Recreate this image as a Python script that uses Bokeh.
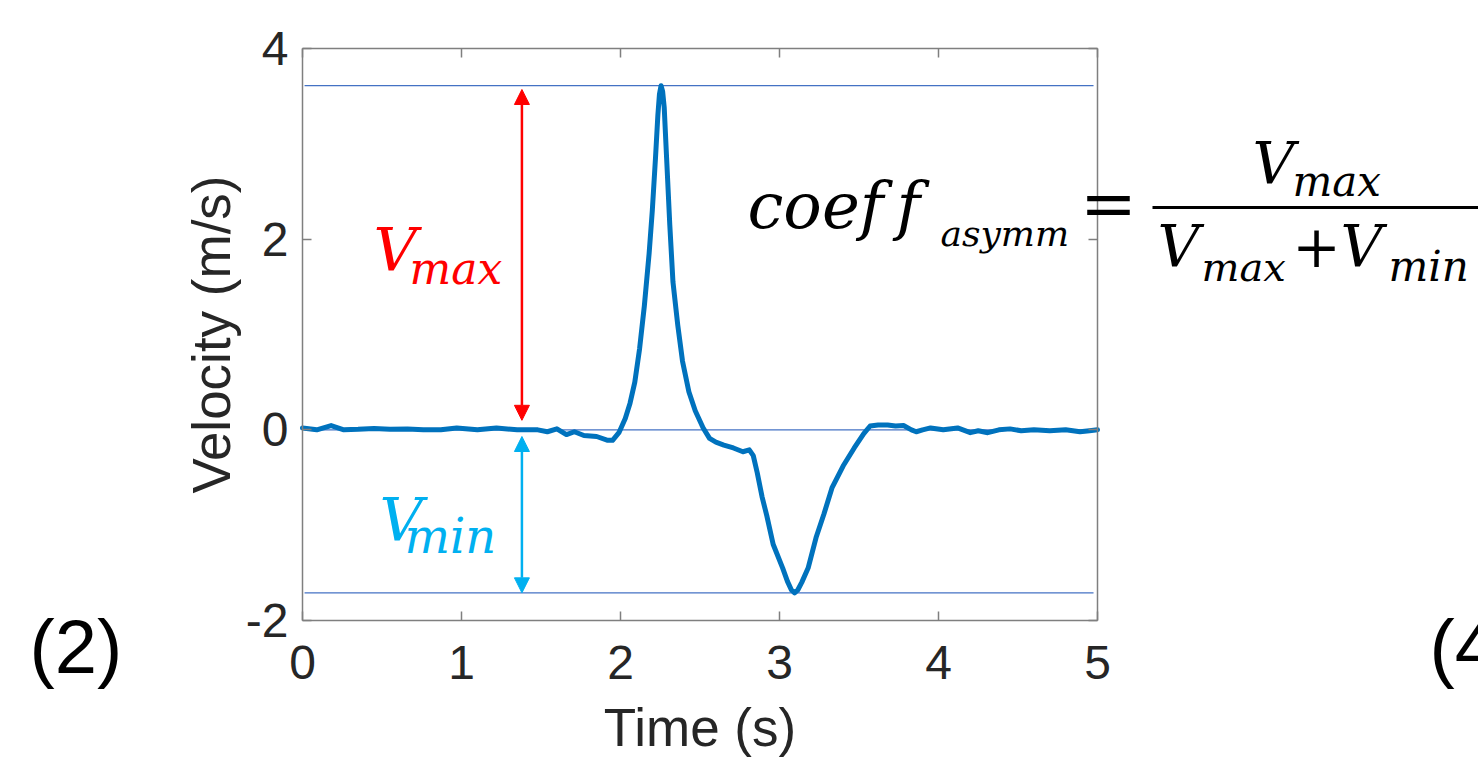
from bokeh.plotting import figure
from bokeh.models import (Range1d, Label, Arrow, NormalHead, LinearAxis,
                          CustomJSTickFormatter, FixedTicker)
from bokeh.embed import file_html
from bokeh.resources import INLINE

# ---------------- data ----------------
time_s = [0.00, 0.09, 0.18, 0.26, 0.35, 0.45, 0.55, 0.66, 0.76, 0.87, 0.97,
          1.10, 1.22, 1.35, 1.48, 1.54, 1.60, 1.66, 1.71, 1.77, 1.85, 1.92,
          1.95, 1.99, 2.03, 2.06, 2.09, 2.12, 2.15, 2.18, 2.20, 2.22, 2.235,
          2.245, 2.255, 2.265, 2.275, 2.29, 2.31, 2.33, 2.36, 2.39, 2.43, 2.47,
          2.52, 2.56, 2.60, 2.65, 2.71, 2.77, 2.81, 2.835, 2.86, 2.89, 2.92, 2.96,
          3.02, 3.05, 3.075, 3.095, 3.115, 3.14, 3.18, 3.23, 3.28, 3.33, 3.40,
          3.47, 3.53, 3.57, 3.62, 3.68, 3.73, 3.78, 3.83, 3.86, 3.90, 3.95,
          4.03, 4.12, 4.20, 4.25, 4.31, 4.38, 4.45, 4.52, 4.60, 4.70, 4.80,
          4.89, 4.95, 5.00]
velocity = [0.02, 0.00, 0.045, 0.00, 0.005, 0.015, 0.005, 0.01, 0.00, 0.00, 0.02,
            0.00, 0.02, 0.00, 0.00, -0.02, 0.01, -0.05, -0.02, -0.06, -0.07, -0.11,
            -0.11, -0.03, 0.12, 0.28, 0.50, 0.85, 1.30, 1.85, 2.30, 2.85, 3.30,
            3.52, 3.61, 3.55, 3.38, 2.85, 2.15, 1.55, 1.10, 0.72, 0.40, 0.20,
            0.02, -0.09, -0.13, -0.16, -0.19, -0.23, -0.21, -0.27, -0.45, -0.70, -0.90, -1.20,
            -1.45, -1.59, -1.68, -1.71, -1.68, -1.60, -1.45, -1.13, -0.88, -0.61, -0.38,
            -0.19, -0.04, 0.04, 0.05, 0.05, 0.04, 0.045, 0.00, -0.02, 0.00, 0.02,
            0.00, 0.02, -0.03, -0.01, -0.03, 0.00, 0.01, -0.01, 0.00, -0.01, 0.00,
            -0.02, -0.01, 0.00]
v_max = 3.61
v_min = -1.71
ref_levels = [v_max, 0.0, v_min]
x_ticks = [0, 1, 2, 3, 4, 5]
y_ticks = [-2, 0, 2, 4]

# ---------------- layout ----------------
W, H = 1478, 757
X0, X1, Y0, Y1 = 0, 5, -2, 4
PX_L, PX_R, PY_T, PY_B = 302, 1097, 48, 620   # where the axes box sits on the page
SX = (X1 - X0) / (PX_R - PX_L)
SY = (Y1 - Y0) / (PY_B - PY_T)


def dx(px):  # page pixel -> data x (for annotation placement)
    return X0 + (px - PX_L) * SX


def dy(py):  # page pixel -> data y
    return Y1 - (py - PY_T) * SY


p = figure(width=W, height=H,
           x_range=Range1d(dx(0), dx(W)), y_range=Range1d(dy(H), dy(0)),
           x_axis_type=None, y_axis_type=None,
           output_backend="svg", toolbar_location=None,
           min_border=0)
p.outline_line_color = None
p.grid.visible = False
p.background_fill_color = "white"
p.border_fill_color = "white"

AX = "#7f7f7f"
TXT = "#262626"


def style_axis(a):
    a.axis_line_color = AX
    a.axis_line_width = 1.5
    a.major_tick_line_color = AX
    a.major_tick_line_width = 1.5
    a.major_tick_in = 9
    a.major_tick_out = 0
    a.minor_tick_line_color = None
    a.major_label_text_font = "Liberation Sans"
    a.major_label_text_font_size = "48px"
    a.major_label_text_color = TXT
    a.axis_label_text_font = "Liberation Sans"
    a.axis_label_text_font_size = "53px"
    a.axis_label_text_font_style = "normal"
    a.axis_label_text_color = TXT


plain = CustomJSTickFormatter(code="return tick.toString()")
xb = LinearAxis(fixed_location=Y0, bounds=(X0, X1), ticker=FixedTicker(ticks=x_ticks),
                formatter=plain, axis_label="Time (s)")
yl = LinearAxis(fixed_location=X0, bounds=(Y0, Y1), ticker=FixedTicker(ticks=y_ticks),
                formatter=plain, axis_label="Velocity (m/s)")
xt = LinearAxis(fixed_location=Y1, bounds=(X0, X1), ticker=FixedTicker(ticks=x_ticks),
                formatter=CustomJSTickFormatter(code="return ''"))
yr = LinearAxis(fixed_location=X1, bounds=(Y0, Y1), ticker=FixedTicker(ticks=y_ticks),
                formatter=CustomJSTickFormatter(code="return ''"))
for a in (xb, yl, xt, yr):
    style_axis(a)
for a in (xt, yr):
    a.major_label_text_font_size = "1px"
xb.major_label_standoff = 25
xb.axis_label_standoff = 16
yl.major_label_standoff = 14
yl.axis_label_standoff = 2
p.add_layout(xb, "below")
p.add_layout(yl, "left")
p.add_layout(xt, "above")
p.add_layout(yr, "right")

# reference lines
p.segment(x0=0.013, x1=4.975, y0=ref_levels, y1=ref_levels,
          line_color="#4472C4", line_width=1.3)

# velocity trace
p.line(time_s, velocity, line_color="#0072BD", line_width=5, line_join="round",
       line_cap="round")

# arrows
RED = "#FF0000"
CYAN = "#00B0F0"
p.add_layout(Arrow(x_start=1.38, x_end=1.38, y_start=0.10, y_end=v_max - 0.04,
                   line_color=RED, line_width=2.5,
                   start=NormalHead(size=15, fill_color=RED, line_color=RED),
                   end=NormalHead(size=15, fill_color=RED, line_color=RED)))
p.add_layout(Arrow(x_start=1.38, x_end=1.38, y_start=-0.07, y_end=v_min,
                   line_color=CYAN, line_width=2.5,
                   start=NormalHead(size=15, fill_color=CYAN, line_color=CYAN),
                   end=NormalHead(size=15, fill_color=CYAN, line_color=CYAN)))

K = 0.39  # empirical baseline correction (fraction of font size)
MATH = "DejaVu Serif"


def add_text(txt, px, py, size, color="black", font=MATH, style="italic",
             align="left"):
    p.add_layout(Label(x=dx(px), y=dy(py - K * size), text=txt, text_font=font,
                       text_font_size=f"{size}px", text_font_style=style,
                       text_color=color, text_align=align,
                       text_baseline="alphabetic"))


# V_max / V_min annotations
add_text("V", 373, 273, 60, RED)
add_text("max", 409, 285, 44, RED)
add_text("V", 379, 543, 60, CYAN)
add_text("min", 404, 554, 48, CYAN)

# formula
add_text("coef", 747, 230, 64)
add_text("f", 896, 230, 64)
add_text("asymm", 940, 247, 36)
add_text("=", 1108, 230, 68, style="normal", align="center")
p.add_layout(Arrow(x_start=dx(1152), x_end=dx(1500), y_start=dy(207), y_end=dy(207),
                   end=None, start=None, line_color="black", line_width=3))
add_text("V", 1252, 185, 58)
add_text("max", 1292, 197, 42)
add_text("V", 1157, 268, 58)
add_text("max", 1201, 282, 40)
add_text("+", 1316, 268, 58, style="normal", align="center")
add_text("V", 1340, 268, 58)
add_text("min", 1388, 282, 42)

# panel markers
add_text("(2)", 29, 676, 76, font="Liberation Sans", style="normal")
add_text("(4", 1429, 676, 76, font="Liberation Sans", style="normal")

open("out.html", "w").write(file_html(p, INLINE))
